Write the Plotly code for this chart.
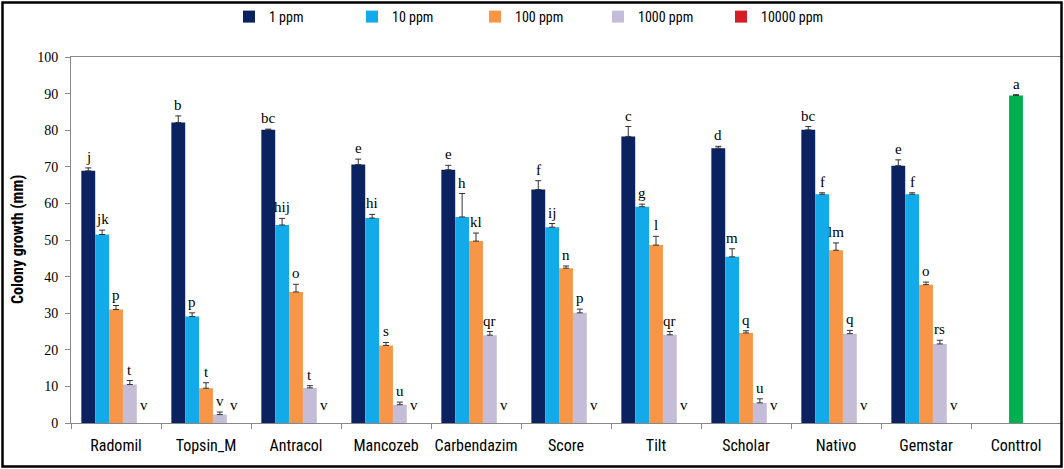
import plotly.graph_objects as go

categories = ['Radomil', 'Topsin_M', 'Antracol', 'Mancozeb', 'Carbendazim',
              'Score', 'Tilt', 'Scholar', 'Nativo', 'Gemstar', 'Conttrol']
fungicides = categories[:10]
series_names = ['1 ppm', '10 ppm', '100 ppm', '1000 ppm', '10000 ppm']

ppm1 = [68.9, 82.1, 80.1, 70.6, 69.2, 63.8, 78.3, 75.1, 80.1, 70.3]
ppm1_err = [0.8, 1.8, 0.2, 1.5, 1.2, 2.4, 2.7, 0.5, 0.9, 1.6]
ppm1_letters = ['j', 'b', 'bc', 'e', 'e', 'f', 'c', 'd', 'bc', 'e']

ppm10 = [51.5, 29.1, 54.1, 56.0, 56.3, 53.5, 59.1, 45.4, 62.5, 62.5]
ppm10_err = [1.2, 1.0, 1.8, 1.0, 6.4, 1.0, 0.7, 2.2, 0.4, 0.4]
ppm10_letters = ['jk', 'p', 'hij', 'hi', 'h', 'ij', 'g', 'm', 'f', 'f']

ppm100 = [31.0, 9.5, 35.8, 21.2, 49.7, 42.3, 48.6, 24.6, 47.2, 37.8]
ppm100_err = [1.1, 1.5, 2.1, 0.8, 2.2, 0.6, 2.4, 0.6, 2.0, 0.7]
ppm100_letters = ['p', 't', 'o', 's', 'kl', 'n', 'l', 'q', 'lm', 'o']

ppm1000 = [10.5, 2.3, 9.6, 5.0, 24.0, 30.1, 24.1, 5.5, 24.4, 21.6]
ppm1000_err = [1.1, 0.7, 0.6, 0.7, 1.0, 1.0, 0.9, 1.1, 0.9, 1.0]
ppm1000_letters = ['t', 'v', 't', 'u', 'qr', 'p', 'qr', 'u', 'q', 'rs']

ppm10000 = [0, 0, 0, 0, 0, 0, 0, 0, 0, 0]
ppm10000_err = [0, 0, 0, 0, 0, 0, 0, 0, 0, 0]
ppm10000_letters = ['v', 'v', 'v', 'v', 'v', 'v', 'v', 'v', 'v', 'v']

control_value = [89.5]
control_err = [0.2]
control_letters = ['a']

colors = ['#0b2260', '#12aae8', '#f79646', '#c5bdd8', '#d41f26']
control_color = '#00b050'

values = [ppm1, ppm10, ppm100, ppm1000, ppm10000]
errs = [ppm1_err, ppm10_err, ppm100_err, ppm1000_err, ppm10000_err]
letters = [ppm1_letters, ppm10_letters, ppm100_letters, ppm1000_letters, ppm10000_letters]

BARGAP = 0.23
NS = len(series_names)
BW = (1 - BARGAP) / NS

serif = 'Liberation Serif, Times New Roman, serif'
narrow = 'Roboto Condensed, Liberation Sans Narrow, Liberation Sans, Arial, sans-serif'

fig = go.Figure()
for k, name in enumerate(series_names):
    has_err = any(e > 0 for e in errs[k])
    fig.add_trace(go.Bar(
        name=name, x=fungicides, y=values[k],
        marker=dict(color=colors[k], line=dict(width=0)),
        error_y=dict(type='data', array=errs[k], arrayminus=[0] * len(errs[k]),
                     symmetric=False, color='#333333', thickness=1, width=3,
                     visible=has_err),
    ))

fig.add_trace(go.Bar(
    name='Control', x=['Conttrol'], y=control_value, showlegend=False,
    marker=dict(color=control_color, line=dict(width=0)),
    width=BW, offset=-BW / 2,
    error_y=dict(type='data', array=control_err, arrayminus=[0], symmetric=False,
                 color='#333333', thickness=1, width=3),
))

annotations = []
for k in range(NS):
    for i, cat in enumerate(fungicides):
        xpos = i - (1 - BARGAP) / 2 + (k + 0.5) * BW
        v = values[k][i] + errs[k][i]
        annotations.append(dict(
            x=xpos, y=v, xref='x', yref='y', text=letters[k][i], showarrow=False,
            yanchor='bottom', xanchor='center', yshift=(8 if v == 0 else 1),
            font=dict(family=serif, size=15, color='black'),
        ))
annotations.append(dict(
    x=10, y=control_value[0] + control_err[0], xref='x', yref='y',
    text=control_letters[0], showarrow=False, yanchor='bottom', yshift=1,
    font=dict(family=serif, size=15, color='black'),
))
annotations.append(dict(
    x=-0.0545, y=0.5, xref='paper', yref='paper', text='<b>Colony growth (mm)</b>',
    textangle=-90, showarrow=False, xanchor='center', yanchor='middle',
    font=dict(family=narrow, size=16, color='black'),
))

L, R, T, B = 71, 3, 57, 46
W, H = 1064, 469
pw, ph = W - L - R, H - T - B

fig.update_layout(
    width=W, height=H,
    margin=dict(l=L, r=R, t=T, b=B, autoexpand=False),
    paper_bgcolor='white', plot_bgcolor='white',
    barmode='group', bargap=BARGAP, bargroupgap=0,
    showlegend=True,
    legend=dict(orientation='h', x=(229 - L) / pw, xanchor='left',
                y=(H - B - 17) / ph, yanchor='middle',
                font=dict(family=narrow, size=14, color='black'),
                entrywidth=78, entrywidthmode='pixels', itemwidth=30,
                bgcolor='rgba(0,0,0,0)'),
    annotations=annotations,
    xaxis=dict(type='category', categoryorder='array', categoryarray=categories,
               range=[-0.5, 10.5], tickson='boundaries', ticks='outside', ticklen=5,
               tickcolor='#888888', showline=True, linecolor='#888888', linewidth=1,
               mirror=True, showgrid=False, ticklabelstandoff=8, tickangle=0,
               automargin=False,
               tickfont=dict(family=narrow, size=16, color='black')),
    yaxis=dict(range=[0, 100], dtick=10, ticks='outside', ticklen=5,
               tickcolor='#888888', showline=True, linecolor='#888888', linewidth=1,
               mirror=True, showgrid=False, zeroline=False, ticklabelstandoff=4,
               automargin=False,
               tickfont=dict(family=serif, size=14, color='black')),
    shapes=[dict(type='rect', xref='paper', yref='paper',
                 x0=(2.5 - L) / pw, x1=(W - 2.5 - L) / pw,
                 y0=(H - B - (H - 2.5)) / ph, y1=(H - B - 2.5) / ph,
                 line=dict(color='black', width=2.5), fillcolor='rgba(0,0,0,0)')],
)

fig.write_html('out.html', config={'displayModeBar': False},
               post_script="document.body.style.margin='0';")
